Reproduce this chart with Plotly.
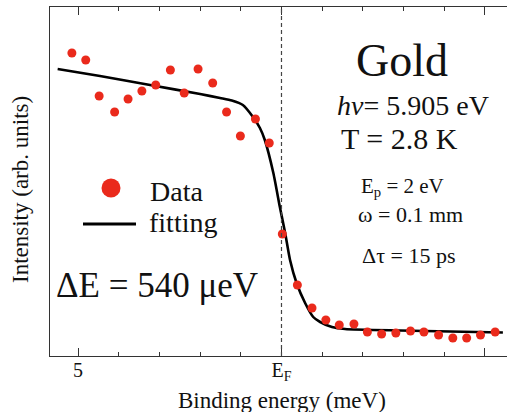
import plotly.graph_objects as go

# ---- data (binding energy in meV relative to E_F, intensity in arb. units) ----
data_energy = [5.15, 4.81, 4.48, 4.10, 3.77, 3.43, 3.09, 2.73, 2.39, 2.05, 1.69,
               1.35, 1.01, 0.64, 0.30, -0.02, -0.39, -0.75, -1.09, -1.42, -1.78,
               -2.11, -2.46, -2.81, -3.17, -3.50, -3.86, -4.21, -4.55, -4.89, -5.25]
data_intensity = [3.03, 2.96, 2.60, 2.44, 2.57, 2.65, 2.71, 2.86, 2.63, 2.87, 2.73,
                  2.44, 2.20, 2.37, 2.13, 1.22, 0.71, 0.48, 0.36, 0.31, 0.32,
                  0.24, 0.22, 0.23, 0.25, 0.24, 0.21, 0.18, 0.18, 0.21, 0.24]

fit_energy = [5.50, 4.46, 3.23, 2.00, 1.51, 1.22, 0.95, 0.70, 0.53, 0.41, 0.20,
              0.04, -0.09, -0.21, -0.37, -0.58, -0.78, -0.95, -1.24, -1.56, -2.91,
              -4.14, -5.44]
fit_intensity = [2.87, 2.80, 2.71, 2.62, 2.58, 2.555, 2.51, 2.39, 2.28, 2.16, 1.83,
                 1.49, 1.23, 0.96, 0.73, 0.53, 0.39, 0.34, 0.29, 0.27, 0.255,
                 0.245, 0.235]

tick_values = [5, 0, -5]
tick_labels = ["5", "E<sub>F</sub>", ""]

RED = "#ea2a1c"
FONT = "Liberation Serif"
AX = "#333333"

# plot-area geometry helpers (pixel -> paper)
L, T_, W, H = 50, 7, 457, 349
def px(x):
    return (x - L) / W
def py(y):
    return (T_ + H - y) / H

fig = go.Figure()
fig.add_trace(go.Scatter(x=fit_energy, y=fit_intensity, mode="lines",
                         line=dict(color="black", width=2.6, shape="spline", smoothing=0.6),
                         showlegend=False, hoverinfo="skip"))
fig.add_trace(go.Scatter(x=data_energy, y=data_intensity, mode="markers",
                         marker=dict(color=RED, size=9, line=dict(width=0)),
                         showlegend=False))

shapes = [
    dict(type="line", xref="x", yref="paper", x0=0, x1=0, y0=0, y1=1,
         line=dict(color="#444444", width=1.2, dash="4px,3px")),
    # legend symbols
    dict(type="circle", xref="paper", yref="paper", x0=px(101.5), x1=px(120.5),
         y0=py(197.5), y1=py(178.5), fillcolor=RED, line=dict(width=0)),
    dict(type="line", xref="paper", yref="paper", x0=px(83), x1=px(136),
         y0=py(224), y1=py(224), line=dict(color="black", width=3)),
]

def ann(text, x, y, size, xanchor="center", **kw):
    return dict(text=text, x=px(x), y=py(y), xref="paper", yref="paper",
                xanchor=xanchor, yanchor="middle", showarrow=False,
                font=dict(family=FONT, size=size, color="#111111"), **kw)

annotations = [
    ann("Gold", 402, 60, 46),
    ann("<i>h</i><i>ν</i>= 5.905 eV", 413, 105, 28),
    ann("T = 2.8 K", 399, 138, 30),
    ann("E<sub>p</sub> = 2 eV", 402, 187, 21),
    ann("ω = 0.1 mm", 410, 215, 22),
    ann("Δτ = 15 ps", 408, 255, 22),
    ann("Data", 148, 191, 28, xanchor="left"),
    ann("fitting", 147, 222, 28, xanchor="left"),
    ann("ΔE = 540 μeV", 157, 285, 35),
    ann("Binding energy (meV)", 282, 400, 23),
    ann("Intensity (arb. units)", 20, 190, 23, textangle=-90),
]

fig.update_layout(
    width=507, height=412,
    margin=dict(l=L, r=0, t=T_, b=412 - T_ - H, pad=0),
    paper_bgcolor="white", plot_bgcolor="white",
    showlegend=False,
    shapes=shapes, annotations=annotations,
    xaxis=dict(range=[5.688, -5.541], tickmode="array", tickvals=tick_values,
               ticktext=tick_labels, ticks="inside", ticklen=8, tickwidth=1.2,
               tickcolor=AX, showline=True, linecolor=AX, linewidth=1.3,
               mirror="ticks", showgrid=False, zeroline=False,
               ticklabelstandoff=-4,
               tickfont=dict(family=FONT, size=20, color="#111111"),
               minor=dict(ticks="inside", ticklen=4, tickwidth=1.2, tickcolor=AX,
                          dtick=1, tick0=0, showgrid=False)),
    yaxis=dict(range=[0, 3.49], showticklabels=False, ticks="", showline=True,
               linecolor=AX, linewidth=1.3, showgrid=False, zeroline=False),
)

fig.write_html("out.html", config={"displayModeBar": False},
               post_script="document.body.style.margin='0px';"
                           "document.body.style.overflow='hidden';")
